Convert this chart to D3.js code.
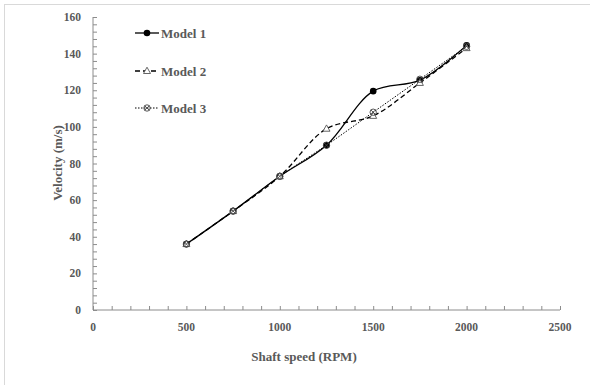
<!DOCTYPE html>
<html>
<head>
<meta charset="utf-8">
<script src="https://cdn.jsdelivr.net/npm/d3@7"></script>
<style>
  body { margin: 0; background: #fff; }
  text { font-family: "Liberation Serif", "Times New Roman", serif; font-weight: bold; fill: #595959; }
</style>
</head>
<body>
<div id="canvas"></div>
<script>
// Data
var speeds = [500, 750, 1000, 1250, 1500, 1750, 2000];
var model1 = [36, 54, 73, 90, 119.5, 125.5, 144.5];
var model2 = [36, 54, 73, 99, 106, 124, 143];
var model3 = [36, 54, 73, 90, 108, 126, 144];
var seriesNames = ["Model 1", "Model 2", "Model 3"];
var xTicks = [0, 500, 1000, 1500, 2000, 2500];
var yTicks = [0, 20, 40, 60, 80, 100, 120, 140, 160];

var W = 590, H = 385;
var svg = d3.select("#canvas").append("svg")
  .attr("width", W)
  .attr("height", H);

// chart border (only top/left visible)
svg.append("rect")
  .attr("x", 4.5).attr("y", 4.5)
  .attr("width", W).attr("height", H)
  .style("fill", "none")
  .style("stroke", "#d9d9d9");

var x = d3.scaleLinear().domain([0, 2500]).range([93, 560]);
var y = d3.scaleLinear().domain([0, 160]).range([310, 17]);

var axisColor = "#8c8c8c";

// x axis: inside ticks every 100
var xAxis = svg.append("g").attr("transform", "translate(0," + y(0) + ")")
  .call(d3.axisBottom(x).tickValues(d3.range(0, 2501, 100)).tickSize(-4).tickFormat(""));
xAxis.select(".domain").attr("d", "M" + x(0) + ",0H" + x(2500)).style("stroke", axisColor);
xAxis.selectAll(".tick line").style("stroke", axisColor);

// y axis: inside ticks every 4
var yAxis = svg.append("g").attr("transform", "translate(" + x(0) + ",0)")
  .call(d3.axisLeft(y).tickValues(d3.range(0, 161, 4)).tickSize(-4).tickFormat(""));
yAxis.select(".domain").attr("d", "M0," + y(0) + "V" + y(160)).style("stroke", axisColor);
yAxis.selectAll(".tick line").style("stroke", axisColor);

// tick labels
svg.append("g").selectAll("text")
  .data(xTicks).enter().append("text")
  .attr("x", function (d) { return x(d); })
  .attr("y", 331)
  .attr("text-anchor", "middle")
  .style("font-size", "11.5px")
  .text(function (d) { return d; });

svg.append("g").selectAll("text")
  .data(yTicks).enter().append("text")
  .attr("x", 81)
  .attr("y", function (d) { return y(d) + 4; })
  .attr("text-anchor", "end")
  .style("font-size", "11.5px")
  .text(function (d) { return d; });

// axis titles
svg.append("text")
  .attr("x", 304).attr("y", 361)
  .attr("text-anchor", "middle")
  .style("font-size", "13px")
  .text("Shaft speed (RPM)");

svg.append("text")
  .attr("transform", "translate(62," + 163 + ") rotate(-90)")
  .attr("text-anchor", "middle")
  .style("font-size", "13px")
  .text("Velocity (m/s)");

// lines
var series = [
  { name: seriesNames[0], values: model1, dash: null, width: 1.3 },
  { name: seriesNames[1], values: model2, dash: "5,3", width: 1.3 },
  { name: seriesNames[2], values: model3, dash: "1.5,1.5", width: 1 }
];

var line = d3.line()
  .x(function (d, i) { return x(speeds[i]); })
  .y(function (d) { return y(d); })
  .curve(d3.curveCatmullRom.alpha(0.5));

svg.append("g").selectAll("path")
  .data(series).enter().append("path")
  .attr("d", function (d) { return line(d.values); })
  .style("fill", "none")
  .style("stroke", "#000")
  .style("stroke-width", function (d) { return d.width; })
  .style("stroke-dasharray", function (d) { return d.dash; });

// markers
function drawMarker(g, kind, cx, cy) {
  if (kind === 0) {
    g.append("circle").attr("cx", cx).attr("cy", cy).attr("r", 3.3)
      .style("fill", "#000");
  } else if (kind === 1) {
    g.append("path")
      .attr("d", "M" + cx + "," + (cy - 3.8) + "L" + (cx + 3.5) + "," + (cy + 2.5) + "L" + (cx - 3.5) + "," + (cy + 2.5) + "Z")
      .style("fill", "#fff").style("stroke", "#555").style("stroke-width", 0.9);
  } else {
    g.append("circle").attr("cx", cx).attr("cy", cy).attr("r", 3.2)
      .style("fill", "none").style("stroke", "#444").style("stroke-width", 0.9);
    g.append("path")
      .attr("d", "M" + (cx - 2.3) + "," + (cy - 2.3) + "L" + (cx + 2.3) + "," + (cy + 2.3) +
        "M" + (cx + 2.3) + "," + (cy - 2.3) + "L" + (cx - 2.3) + "," + (cy + 2.3))
      .style("stroke", "#444").style("stroke-width", 0.9);
  }
}

var markers = svg.append("g");
series.forEach(function (s, k) {
  s.values.forEach(function (v, i) {
    drawMarker(markers, k, x(speeds[i]), y(v));
  });
});

// legend
var legendY = [33, 71, 108];
series.forEach(function (s, k) {
  var g = svg.append("g");
  g.append("line")
    .attr("x1", 135).attr("x2", 159)
    .attr("y1", legendY[k]).attr("y2", legendY[k])
    .style("stroke", "#000")
    .style("stroke-width", s.width)
    .style("stroke-dasharray", s.dash);
  drawMarker(g, k, 147, legendY[k]);
  g.append("text")
    .attr("x", 161).attr("y", legendY[k] + 4.5)
    .style("font-size", "13px")
    .text(s.name);
});
</script>
</body>
</html>
